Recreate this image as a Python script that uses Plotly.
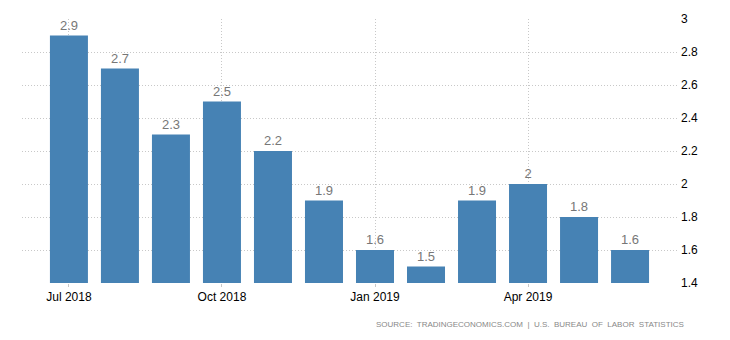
import plotly.graph_objects as go

months = ["Jul 2018", "Aug 2018", "Sep 2018", "Oct 2018", "Nov 2018", "Dec 2018",
          "Jan 2019", "Feb 2019", "Mar 2019", "Apr 2019", "May 2019", "Jun 2019"]
values = [2.9, 2.7, 2.3, 2.5, 2.2, 1.9, 1.6, 1.5, 1.9, 2.0, 1.8, 1.6]
tick_months = ["Jul 2018", "Oct 2018", "Jan 2019", "Apr 2019"]
y_ticks = [1.4, 1.6, 1.8, 2.0, 2.2, 2.4, 2.6, 2.8, 3.0]
y_tick_text = ["1.4", "1.6", "1.8", "2", "2.2", "2.4", "2.6", "2.8", "3"]
source_text = "SOURCE:  TRADINGECONOMICS.COM  |  U.S.  BUREAU  OF  LABOR  STATISTICS"

font_family = "Liberation Sans, DejaVu Sans, sans-serif"

fig = go.Figure()
fig.add_trace(go.Bar(
    x=months,
    y=[v - 1.4 for v in values],
    base=1.4,
    width=0.745,
    marker=dict(color="#4682B4", line=dict(width=0)),
    text=[f"{v:g}" for v in values],
    textposition="outside",
    cliponaxis=False,
    textfont=dict(color="#777777", size=13, family=font_family),
    hoverinfo="skip",
))

fig.update_layout(
    width=730, height=340,
    margin=dict(l=22, r=52, t=19, b=57),
    paper_bgcolor="white", plot_bgcolor="white",
    showlegend=False,
    font=dict(family=font_family, size=12, color="#000000"),
    xaxis=dict(
        type="category",
        range=[-0.92, 11.94],
        tickmode="array",
        tickvals=tick_months,
        ticktext=tick_months,
        showgrid=True,
        gridcolor="#c8c8c8",
        griddash="1px,2px",
        gridwidth=1,
        ticks="outside",
        ticklen=3,
        tickcolor="#c8c8c8",
        showline=False,
        zeroline=False,
        tickfont=dict(size=12, color="#000000"),
    ),
    yaxis=dict(
        side="right",
        range=[1.4, 3.0],
        tickmode="array",
        tickvals=y_ticks,
        ticktext=y_tick_text,
        showgrid=True,
        gridcolor="#c8c8c8",
        griddash="1px,2px",
        gridwidth=1,
        zeroline=False,
        showline=False,
        ticks="",
        ticklabelstandoff=2,
        tickfont=dict(size=12, color="#000000"),
    ),
    annotations=[dict(
        text=source_text,
        xref="paper", yref="paper",
        x=1.0, y=0, xanchor="right", yanchor="top",
        xshift=8, yshift=-35,
        showarrow=False,
        font=dict(size=8, color="#888888", family=font_family),
    )],
)

fig.write_html("out.html")
